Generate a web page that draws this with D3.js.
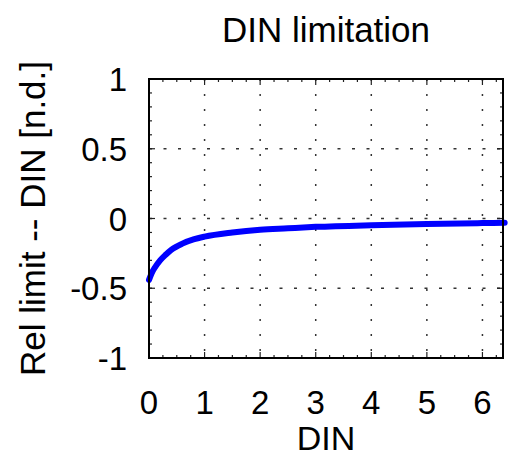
<!DOCTYPE html>
<html>
<head>
<meta charset="utf-8">
<script src="https://cdn.jsdelivr.net/npm/d3@7"></script>
<style>
body { margin: 0; background: #fff; }
text { font-family: "Liberation Sans", Arial, Helvetica, sans-serif; fill: #000; }
</style>
</head>
<body>
<div id="chart"></div>
<script>
// curve
var din = [0, 0.05, 0.1, 0.2, 0.3, 0.4, 0.6, 0.8, 1.0, 1.5, 2.0, 2.5, 3.0, 4.0, 5.0, 6.0, 6.4];
var relLimit = [-0.44, -0.39, -0.355, -0.30, -0.26, -0.225, -0.18, -0.15, -0.13, -0.10, -0.08, -0.07, -0.06, -0.048, -0.04, -0.033, -0.03];
var xTicks = [0, 1, 2, 3, 4, 5, 6];
var yTicks = [-1, -0.5, 0, 0.5, 1];
var yTickLabels = ["-1", "-0.5", "0", "0.5", "1"];

var svgWidth = 508, svgHeight = 458;
var margin = {top: 79, right: 5, bottom: 100, left: 149};
var width = svgWidth - margin.left - margin.right,
    height = svgHeight - margin.top - margin.bottom;

var svg = d3.select("#chart")
  .append("svg")
    .attr("width", svgWidth)
    .attr("height", svgHeight)
  .append("g")
    .attr("transform", `translate(${margin.left},${margin.top})`);

var x = d3.scaleLinear().domain([0, 6.37]).range([0, width]);
var y = d3.scaleLinear().domain([-1, 1]).range([height, 0]);

// grid
svg.selectAll(".vgrid")
  .data(xTicks.filter(d => d > 0))
  .enter().append("line")
    .attr("x1", d => x(d)).attr("x2", d => x(d))
    .attr("y1", 0).attr("y2", height)
    .attr("stroke", "#333")
    .attr("stroke-width", 1.5)
    .attr("stroke-dasharray", "2,13");
svg.selectAll(".hgrid")
  .data(yTicks.filter(d => d > -1 && d < 1))
  .enter().append("line")
    .attr("x1", 0).attr("x2", width)
    .attr("y1", d => y(d)).attr("y2", d => y(d))
    .attr("stroke", "#333")
    .attr("stroke-width", 1.5)
    .attr("stroke-dasharray", "3,11.5");

// minor ticks on the box
var xMinor = d3.range(0, 6.37, 0.25);
var yMinor = d3.range(-1, 1.001, 0.1);
var ticksG = svg.append("g").attr("stroke", "#222").attr("stroke-width", 1.2);
xMinor.forEach(function(v) {
  var len = Math.abs(v - Math.round(v)) < 1e-6 ? 6 : 3;
  ticksG.append("line").attr("x1", x(v)).attr("x2", x(v)).attr("y1", height).attr("y2", height - len);
  ticksG.append("line").attr("x1", x(v)).attr("x2", x(v)).attr("y1", 0).attr("y2", len);
});
yMinor.forEach(function(v) {
  var len = Math.abs(v * 2 - Math.round(v * 2)) < 1e-6 ? 6 : 3;
  ticksG.append("line").attr("x1", 0).attr("x2", len).attr("y1", y(v)).attr("y2", y(v));
  ticksG.append("line").attr("x1", width).attr("x2", width - len).attr("y1", y(v)).attr("y2", y(v));
});

// curve
svg.append("path")
  .datum(din.map((d, i) => [d, relLimit[i]]))
  .attr("fill", "none")
  .attr("stroke", "#0000ff")
  .attr("stroke-width", 6)
  .attr("stroke-linecap", "round")
  .attr("d", d3.line()
    .curve(d3.curveMonotoneX)
    .x(d => x(d[0]))
    .y(d => y(d[1])));

// box
svg.append("rect")
  .attr("x", 0).attr("y", 0)
  .attr("width", width).attr("height", height)
  .attr("fill", "none")
  .attr("stroke", "#000")
  .attr("stroke-width", 2);

// tick labels
svg.selectAll(".xlab")
  .data(xTicks)
  .enter().append("text")
    .attr("x", d => x(d))
    .attr("y", height + 56)
    .attr("text-anchor", "middle")
    .style("font-size", "33px")
    .text(d => d);
svg.selectAll(".ylab")
  .data(yTicks)
  .enter().append("text")
    .attr("x", -22)
    .attr("y", d => y(d) + 12)
    .attr("text-anchor", "end")
    .style("font-size", "33px")
    .text((d, i) => yTickLabels[i]);

// titles
svg.append("text")
  .attr("x", width / 2)
  .attr("y", -37)
  .attr("text-anchor", "middle")
  .style("font-size", "35px")
  .text("DIN limitation");
svg.append("text")
  .attr("x", width / 2)
  .attr("y", height + 92)
  .attr("text-anchor", "middle")
  .style("font-size", "34px")
  .text("DIN");
svg.append("text")
  .attr("transform", "rotate(-90)")
  .attr("x", -height / 2)
  .attr("y", -104)
  .attr("text-anchor", "middle")
  .style("font-size", "35px")
  .text("Rel limit -- DIN [n.d.]");
</script>
</body>
</html>
